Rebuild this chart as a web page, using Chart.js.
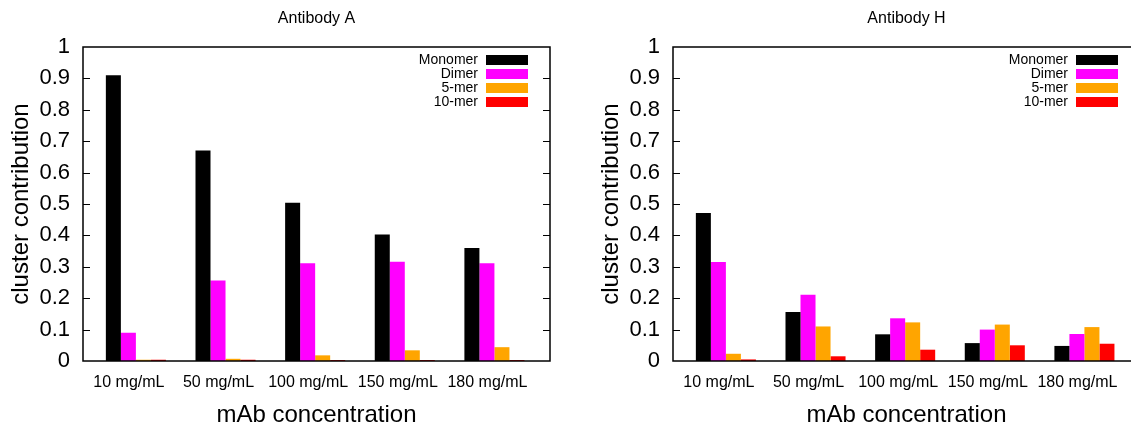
<!DOCTYPE html>
<html>
<head>
<meta charset="utf-8">
<script src="https://cdn.jsdelivr.net/npm/chart.js@4.4.0/dist/chart.umd.min.js"></script>
<style>
	html, body { margin: 0; padding: 0; background: #fff; width: 1131px; height: 431px; overflow: hidden; }
	.panel { position: absolute; top: 0; width: 565px; height: 431px; }
	#panelA { left: 0; }
	#panelH { left: 590px; }
</style>
</head>
<body>
<div class="panel" id="panelA"><canvas id="chartA" width="565" height="431"></canvas></div>
<div class="panel" id="panelH"><canvas id="chartH" width="565" height="431"></canvas></div>
<script>
// 카테고리 / 시리즈
const concLabels = ['10 mg/mL', '50 mg/mL', '100 mg/mL', '150 mg/mL', '180 mg/mL'];
const seriesNames = ['Monomer', 'Dimer', '5-mer', '10-mer'];
const seriesColors = ['#000000', '#ff00ff', '#ffa500', '#ff0000'];
const yTickValues = [0, 0.1, 0.2, 0.3, 0.4, 0.5, 0.6, 0.7, 0.8, 0.9, 1];
const yTickLabels = ['0', '0.1', '0.2', '0.3', '0.4', '0.5', '0.6', '0.7', '0.8', '0.9', '1'];

// Antibody A
const monomerA  = [0.910, 0.670, 0.504, 0.403, 0.360];
const dimerA    = [0.090, 0.256, 0.311, 0.316, 0.311];
const pentamerA = [0.004, 0.007, 0.018, 0.034, 0.044];
const decamerA  = [0.004, 0.004, 0.003, 0.003, 0.003];

// Antibody H
const monomerH  = [0.471, 0.156, 0.085, 0.057, 0.048];
const dimerH    = [0.315, 0.211, 0.136, 0.100, 0.086];
const pentamerH = [0.023, 0.110, 0.123, 0.116, 0.108];
const decamerH  = [0.005, 0.015, 0.036, 0.050, 0.055];

const FONT = '"Liberation Sans", Arial, Helvetica, sans-serif';

// 제목 + 테두리 박스 + 안쪽 눈금 + 범례 (gnuplot 스타일)
const frameAndKey = {
	id: 'frameAndKey',
	afterDatasetsDraw(chart, args, opts) {
		const ctx = chart.ctx;
		const a = chart.chartArea;
		const y = chart.scales.y;
		ctx.save();

		// 제목은 플롯 영역 가운데에 맞춤
		ctx.fillStyle = '#000';
		ctx.font = '16px ' + FONT;
		ctx.textAlign = 'center';
		ctx.textBaseline = 'middle';
		ctx.fillText(opts.title, (a.left + a.right) / 2, 19);

		ctx.strokeStyle = '#000';
		ctx.lineWidth = 1.5;
		ctx.strokeRect(a.left, a.top, a.right - a.left, a.bottom - a.top);

		ctx.lineWidth = 1;
		y.ticks.forEach(t => {
			if (t.value <= 0 || t.value >= 1) return;
			const py = Math.round(y.getPixelForValue(t.value)) + 0.5;
			ctx.beginPath();
			ctx.moveTo(a.left, py); ctx.lineTo(a.left + 7, py);
			ctx.moveTo(a.right, py); ctx.lineTo(a.right - 7, py);
			ctx.stroke();
		});

		ctx.font = '14px ' + FONT;
		ctx.textAlign = 'right';
		chart.data.datasets.forEach((ds, i) => {
			const cy = a.top + 13 + i * 14;
			ctx.fillStyle = ds.backgroundColor;
			ctx.fillRect(a.right - 64, cy - 5, 42, 10);
			ctx.fillStyle = '#000';
			ctx.fillText(ds.label, a.right - 72, cy);
		});
		ctx.restore();
	}
};

function makeChart(canvasId, titleText, seriesValues) {
	return new Chart(document.getElementById(canvasId), {
		type: 'bar',
		data: {
			datasets: seriesNames.map((name, s) => ({
				label: name,
				data: seriesValues[s].map((v, i) => ({ x: i, y: v })),
				backgroundColor: seriesColors[s],
				borderWidth: 0,
				categoryPercentage: 0.67,
				barPercentage: 1
			}))
		},
		options: {
			responsive: false,
			animation: false,
			layout: { padding: { left: 0, right: 15, top: 47, bottom: 0 } },
			plugins: {
				legend: { display: false },
				tooltip: { enabled: false },
				title: { display: false },
				frameAndKey: { title: titleText }
			},
			scales: {
				x: {
					type: 'linear',
					offset: false,
					min: -0.59,
					max: 4.62,
					grid: { display: false, drawTicks: false },
					border: { display: false },
					afterBuildTicks: s => { s.ticks = concLabels.map((_, i) => ({ value: i })); },
					afterFit: s => { s.height = 70; },
					ticks: {
						callback: (v, i) => concLabels[i],
						color: '#000',
						font: { family: FONT, size: 16 },
						padding: 12,
						labelOffset: -7,
						maxRotation: 0,
						autoSkip: false
					},
					title: {
						display: true,
						text: 'mAb concentration',
						color: '#000',
						font: { family: FONT, size: 24 },
						padding: { top: 0, bottom: 1 }
					}
				},
				y: {
					min: 0,
					max: 1,
					grid: { display: false, drawTicks: false },
					border: { display: false },
					afterBuildTicks: s => { s.ticks = yTickValues.map(v => ({ value: v })); },
					afterFit: s => { s.width = 83; },
					ticks: {
						callback: (v, i) => yTickLabels[i],
						color: '#000',
						font: { family: FONT, size: 22 },
						padding: 13
					},
					title: {
						display: true,
						text: 'cluster contribution',
						color: '#000',
						font: { family: FONT, size: 24 },
						padding: { top: 7, bottom: 0 }
					}
				}
			}
		},
		plugins: [frameAndKey]
	});
}

document.addEventListener('DOMContentLoaded', function() {
	makeChart('chartA', 'Antibody A', [monomerA, dimerA, pentamerA, decamerA]);
	makeChart('chartH', 'Antibody H', [monomerH, dimerH, pentamerH, decamerH]);
});
</script>
</body>
</html>
